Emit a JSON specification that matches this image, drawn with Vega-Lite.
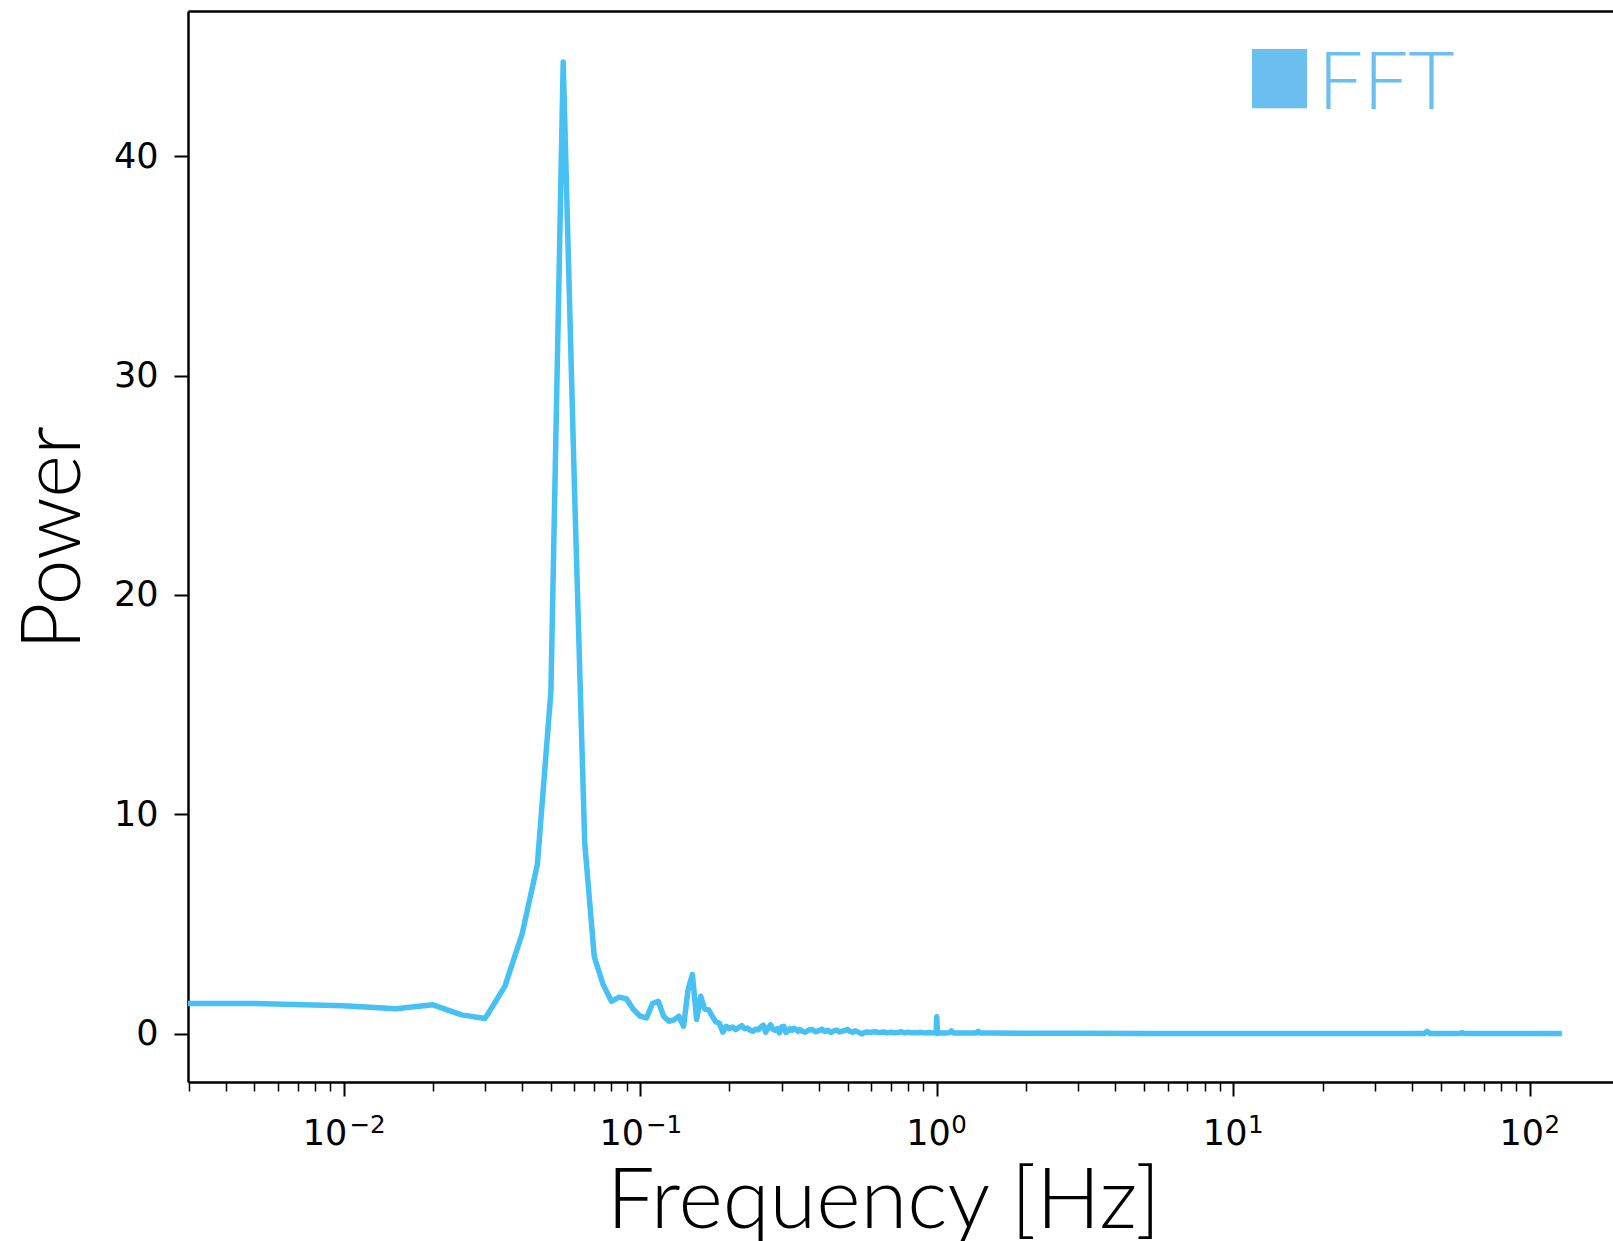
{
  "$schema": "https://vega.github.io/schema/vega-lite/v6.json",
  "width": 1425,
  "height": 1071,
  "autosize": {"type": "none"},
  "padding": {"left": 188, "top": 11, "right": 0, "bottom": 159},
  "background": "white",
  "config": {"view": {"stroke": null}, "axis": {"grid": false}},
  "data": {"values": [
    {"freq": 0.0025, "power": 1.37},
    {"freq": 0.005, "power": 1.37},
    {"freq": 0.01, "power": 1.27},
    {"freq": 0.015, "power": 1.13},
    {"freq": 0.02, "power": 1.31},
    {"freq": 0.025, "power": 0.85},
    {"freq": 0.03, "power": 0.69},
    {"freq": 0.035, "power": 2.16},
    {"freq": 0.04, "power": 4.55},
    {"freq": 0.045, "power": 7.7},
    {"freq": 0.05, "power": 15.6},
    {"freq": 0.055, "power": 44.3},
    {"freq": 0.06, "power": 25.0},
    {"freq": 0.065, "power": 8.7},
    {"freq": 0.07, "power": 3.5},
    {"freq": 0.075, "power": 2.23},
    {"freq": 0.08, "power": 1.47},
    {"freq": 0.085, "power": 1.66},
    {"freq": 0.09, "power": 1.58},
    {"freq": 0.095, "power": 1.09},
    {"freq": 0.1, "power": 0.79},
    {"freq": 0.105, "power": 0.71},
    {"freq": 0.11, "power": 1.37},
    {"freq": 0.115, "power": 1.47},
    {"freq": 0.12, "power": 0.79},
    {"freq": 0.125, "power": 0.56},
    {"freq": 0.13, "power": 0.62},
    {"freq": 0.135, "power": 0.79},
    {"freq": 0.14, "power": 0.33},
    {"freq": 0.145, "power": 2.0},
    {"freq": 0.15, "power": 2.69},
    {"freq": 0.155, "power": 0.64},
    {"freq": 0.16, "power": 1.7},
    {"freq": 0.165, "power": 1.12},
    {"freq": 0.17, "power": 1.09},
    {"freq": 0.175, "power": 0.79},
    {"freq": 0.18, "power": 0.53},
    {"freq": 0.185, "power": 0.47},
    {"freq": 0.19, "power": 0.06},
    {"freq": 0.195, "power": 0.33},
    {"freq": 0.2, "power": 0.22},
    {"freq": 0.205, "power": 0.30},
    {"freq": 0.21, "power": 0.18},
    {"freq": 0.215, "power": 0.28},
    {"freq": 0.22, "power": 0.36},
    {"freq": 0.225, "power": 0.22},
    {"freq": 0.23, "power": 0.25},
    {"freq": 0.235, "power": 0.15},
    {"freq": 0.24, "power": 0.10},
    {"freq": 0.245, "power": 0.20},
    {"freq": 0.25, "power": 0.17},
    {"freq": 0.255, "power": 0.30},
    {"freq": 0.26, "power": 0.38},
    {"freq": 0.265, "power": 0.06},
    {"freq": 0.27, "power": 0.25},
    {"freq": 0.275, "power": 0.40},
    {"freq": 0.28, "power": 0.20},
    {"freq": 0.285, "power": 0.14},
    {"freq": 0.29, "power": 0.22},
    {"freq": 0.295, "power": 0.03},
    {"freq": 0.3, "power": 0.30},
    {"freq": 0.305, "power": 0.33},
    {"freq": 0.31, "power": 0.05},
    {"freq": 0.315, "power": 0.12},
    {"freq": 0.32, "power": 0.22},
    {"freq": 0.325, "power": 0.15},
    {"freq": 0.33, "power": 0.24},
    {"freq": 0.335, "power": 0.18},
    {"freq": 0.34, "power": 0.10},
    {"freq": 0.345, "power": 0.19},
    {"freq": 0.35, "power": 0.12},
    {"freq": 0.36, "power": 0.06},
    {"freq": 0.37, "power": 0.16},
    {"freq": 0.38, "power": 0.18},
    {"freq": 0.39, "power": 0.08},
    {"freq": 0.4, "power": 0.13},
    {"freq": 0.41, "power": 0.20},
    {"freq": 0.42, "power": 0.09},
    {"freq": 0.43, "power": 0.15},
    {"freq": 0.44, "power": 0.05},
    {"freq": 0.45, "power": 0.12},
    {"freq": 0.46, "power": 0.16},
    {"freq": 0.47, "power": 0.07},
    {"freq": 0.48, "power": 0.11},
    {"freq": 0.49, "power": 0.14},
    {"freq": 0.5, "power": 0.19},
    {"freq": 0.51, "power": 0.10},
    {"freq": 0.52, "power": 0.06},
    {"freq": 0.53, "power": 0.12},
    {"freq": 0.54, "power": 0.08},
    {"freq": 0.55, "power": 0.03},
    {"freq": 0.56, "power": -0.02},
    {"freq": 0.57, "power": 0.04},
    {"freq": 0.58, "power": 0.07},
    {"freq": 0.59, "power": 0.05},
    {"freq": 0.6, "power": 0.06},
    {"freq": 0.62, "power": 0.08},
    {"freq": 0.64, "power": 0.04},
    {"freq": 0.66, "power": 0.07},
    {"freq": 0.68, "power": 0.03},
    {"freq": 0.7, "power": 0.06},
    {"freq": 0.72, "power": 0.04},
    {"freq": 0.74, "power": 0.05},
    {"freq": 0.76, "power": 0.08},
    {"freq": 0.78, "power": 0.03},
    {"freq": 0.8, "power": 0.06},
    {"freq": 0.82, "power": 0.04},
    {"freq": 0.84, "power": 0.05},
    {"freq": 0.86, "power": 0.03},
    {"freq": 0.88, "power": 0.06},
    {"freq": 0.9, "power": 0.04},
    {"freq": 0.92, "power": 0.03},
    {"freq": 0.94, "power": 0.05},
    {"freq": 0.96, "power": 0.03},
    {"freq": 0.98, "power": 0.04},
    {"freq": 0.995, "power": 0.04},
    {"freq": 1.0, "power": 0.76},
    {"freq": 1.005, "power": 0.0},
    {"freq": 1.02, "power": 0.03},
    {"freq": 1.05, "power": 0.03},
    {"freq": 1.1, "power": 0.04},
    {"freq": 1.12, "power": 0.12},
    {"freq": 1.14, "power": 0.02},
    {"freq": 1.2, "power": 0.02},
    {"freq": 1.3, "power": 0.02},
    {"freq": 1.36, "power": 0.02},
    {"freq": 1.38, "power": 0.10},
    {"freq": 1.4, "power": 0.02},
    {"freq": 1.5, "power": 0.02},
    {"freq": 2, "power": 0.01},
    {"freq": 3, "power": 0.01},
    {"freq": 5, "power": 0.0},
    {"freq": 10, "power": 0.0},
    {"freq": 20, "power": 0.0},
    {"freq": 44, "power": 0.0},
    {"freq": 45, "power": 0.1},
    {"freq": 46, "power": 0.0},
    {"freq": 58, "power": 0.0},
    {"freq": 59, "power": 0.04},
    {"freq": 60, "power": 0.0},
    {"freq": 80, "power": 0.0},
    {"freq": 100, "power": 0.0},
    {"freq": 128, "power": 0.0}
  ]},
  "layer": [
    {
      "mark": {"type": "line", "strokeWidth": 5.5, "strokeJoin": "round", "clip": true},
      "encoding": {
        "x": {
          "field": "freq", "type": "quantitative",
          "scale": {"type": "log", "domain": [0.002988, 190.5], "nice": false},
          "axis": {
            "orient": "bottom",
            "values": [0.003, 0.004, 0.005, 0.006, 0.007, 0.008, 0.009, 0.01, 0.02, 0.03, 0.04, 0.05, 0.06, 0.07, 0.08, 0.09, 0.1, 0.2, 0.3, 0.4, 0.5, 0.6, 0.7, 0.8, 0.9, 1, 2, 3, 4, 5, 6, 7, 8, 9, 10, 20, 30, 40, 50, 60, 70, 80, 90, 100],
            "labelExpr": "indexof([0.01, 0.1, 1, 10, 100], datum.value) >= 0 ? '10' : ''",
            "labelOffset": {"condition": {"test": "datum.value < 0.5", "value": -19}, "value": -8.75},
            "labelAlign": "center",
            "tickSize": {"condition": {"test": "indexof([0.01, 0.1, 1, 10, 100], datum.value) >= 0", "value": 14}, "value": 9},
            "tickWidth": {"condition": {"test": "indexof([0.01, 0.1, 1, 10, 100], datum.value) >= 0", "value": 2}, "value": 1.5},
            "tickColor": "black",
            "domainColor": "black",
            "domainWidth": 2.5,
            "labelFont": "DejaVu Sans",
            "labelFontSize": 35,
            "labelColor": "black",
            "labelPadding": 20,
            "labelOverlap": false,
            "labelFlush": false,
            "title": "Frequency [Hz]",
            "titleFont": "Lato",
            "titleFontWeight": 300,
            "titleFontSize": 85,
            "titleColor": "black",
            "titleX": 695,
            "titleY": 145,
            "titleBaseline": "alphabetic",
            "titleAlign": "center"
          }
        },
        "y": {
          "field": "power", "type": "quantitative",
          "scale": {"domain": [-2.21, 46.63], "nice": false, "zero": false},
          "axis": {
            "values": [0, 10, 20, 30, 40],
            "tickSize": 14,
            "tickWidth": 2,
            "tickColor": "black",
            "domainColor": "black",
            "domainWidth": 2.5,
            "labelFont": "DejaVu Sans",
            "labelFontSize": 35,
            "labelColor": "black",
            "labelPadding": 16,
            "title": "Power",
            "titleFont": "Lato",
            "titleFontWeight": 300,
            "titleFontSize": 82,
            "titleColor": "black",
            "titleX": -109,
            "titleY": 526.5,
            "titleAngle": 270,
            "titleBaseline": "alphabetic",
            "titleAlign": "center"
          }
        },
        "color": {
          "datum": "FFT",
          "scale": {"range": ["#47C0F4"]},
          "legend": {
            "orient": "none",
            "legendX": 1051.5,
            "legendY": 34,
            "title": null,
            "padding": 0,
            "symbolType": "M-0.965,-1.267H0.965V0.817H-0.965Z",
            "symbolSize": 3249,
            "symbolFillColor": "#6ABEF0",
            "symbolStrokeColor": "#6ABEF0",
            "symbolStrokeWidth": 0,
            "symbolOpacity": 1,
            "labelFont": "Lato",
            "labelFontWeight": 300,
            "labelFontSize": 80,
            "labelColor": "#6ABEF0",
            "labelOffset": -1.5,
            "labelLimit": 400
          }
        }
      }
    },
    {
      "mark": {"type": "line", "opacity": 0},
      "encoding": {
        "x": {
          "field": "freq", "type": "quantitative",
          "axis": {"orient": "top", "domain": true, "domainColor": "black", "domainWidth": 2.5, "ticks": false, "labels": false, "title": null}
        },
        "y": {"field": "power", "type": "quantitative"}
      }
    },
    {
      "mark": {"type": "line", "opacity": 0},
      "encoding": {
        "x": {
          "field": "freq", "type": "quantitative",
          "axis": {
            "orient": "bottom",
            "domain": false,
            "ticks": false,
            "tickSize": 0,
            "values": [0.01, 0.1, 1, 10, 100],
            "labelExpr": "datum.value == 0.01 ? '−2' : datum.value == 0.1 ? '−1' : datum.value == 1 ? '0' : datum.value == 10 ? '1' : '2'",
            "labelAlign": "left",
            "labelOffset": {"condition": {"test": "datum.value < 0.5", "value": 5.4}, "value": 14},
            "labelFont": "DejaVu Sans",
            "labelFontSize": 24.5,
            "labelColor": "black",
            "labelPadding": 31.5,
            "labelOverlap": false,
            "labelFlush": false,
            "title": null
          }
        },
        "y": {"field": "power", "type": "quantitative"}
      }
    }
  ],
  "resolve": {"axis": {"x": "independent"}}
}
